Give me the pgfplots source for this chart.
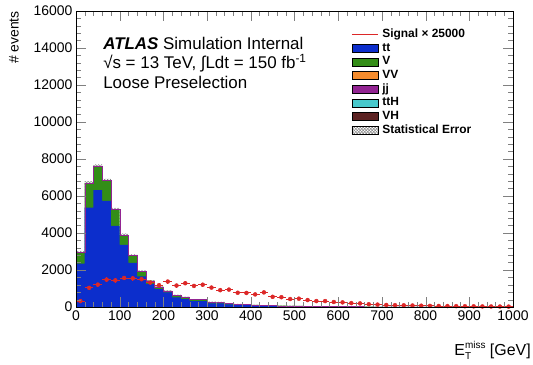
\documentclass[border=0pt]{standalone}
\usepackage{fontspec}
\setmainfont{Liberation Sans}
\usepackage{pgfplots}
\usepackage{pgfplotstable}
\pgfplotsset{compat=1.18}
\usepgfplotslibrary{fillbetween}
\usetikzlibrary{patterns}
\definecolor{ttblue}{RGB}{12,46,204}
\definecolor{vgreen}{RGB}{51,141,23}
\definecolor{vvorange}{RGB}{245,140,45}
\definecolor{jjpurple}{RGB}{146,36,146}
\definecolor{tthcyan}{RGB}{72,201,204}
\definecolor{vhbrown}{RGB}{92,34,34}
\definecolor{sigred}{RGB}{220,40,40}
\pgfplotstableread{
x tt tot err
0 2340 2960 60
20 5370 6710 90
40 6320 7600 95
60 5730 6830 90
80 4390 5280 80
100 3360 3890 70
120 2390 2780 60
140 1660 1930 50
160 1230 1410 40
180 960 1090 35
200 790 870 30
220 520 640 28
240 430 535 25
260 320 410 22
280 320 410 22
300 200 270 18
320 190 260 18
340 140 180 15
360 120 160 14
380 100 130 12
400 80 110 11
420 70 95 10
440 60 80 9
460 50 70 8
480 45 60 8
500 40 55 7
520 35 45 7
540 30 40 6
560 25 35 6
580 20 30 5
600 18 25 5
620 15 20 4
640 12 17 4
660 10 14 4
680 8 11 3
700 6 9 3
720 5 7 3
740 4 6 2
760 3 5 2
780 3 4 2
800 2 3 2
820 2 3 1
840 1 2 1
860 1 2 1
880 1 1 1
900 1 1 1
920 0 1 1
940 0 1 1
960 0 0 0
980 0 0 0
1000 0 0 0
}\bkg
\pgfplotstableread{
x y ex ey
10 320 10 60
30 1035 10 100
50 1210 10 110
70 1480 10 120
90 1440 10 120
110 1570 10 120
130 1550 10 120
150 1500 10 120
170 1320 10 110
190 1180 10 110
210 1375 10 110
230 1160 10 110
250 1285 10 110
270 1140 10 100
290 1205 10 100
310 1050 10 100
330 910 10 90
350 940 10 90
370 770 10 85
390 760 10 85
410 680 10 80
430 790 10 85
450 550 10 75
470 530 10 70
490 430 10 65
510 450 10 65
530 375 10 60
550 320 10 55
570 320 10 55
590 270 10 50
610 250 10 50
630 210 10 45
650 195 10 45
670 150 10 40
690 130 10 35
710 110 10 35
730 100 10 30
750 90 10 30
770 80 10 30
790 70 10 25
810 60 10 25
830 55 10 25
850 50 10 20
870 45 10 20
890 40 10 20
910 35 10 20
930 30 10 15
950 28 10 15
970 25 10 15
990 22 10 15
}\sig
\begin{document}
\begin{tikzpicture}
\begin{axis}[
  name=ax,
  scale only axis,
  width=437bp, height=296bp,
  xmin=0, xmax=1000, ymin=0, ymax=16000,
  xtick distance=100, ytick distance=2000,
  minor x tick num=4, minor y tick num=4,
  tick align=inside,
  major tick length=10bp, minor tick length=5bp,
  axis on top,
  tick label style={font=\fontsize{14}{14}\selectfont},
  /pgf/number format/assume math mode=true,
  /pgf/number format/1000 sep={},
  scaled y ticks=false,
  xlabel={E\rlap{\raisebox{-0.45ex}{\fontsize{10}{10}\selectfont T}}\raisebox{0.85ex}{\fontsize{10}{10}\selectfont miss} [GeV]},
  xlabel style={at={(rel axis cs:1.041,-0.145)}, anchor=east, font=\fontsize{16}{16}\selectfont, inner sep=0pt},
  ylabel={\# events},
  ylabel style={at={(rel axis cs:-0.142,1.0)}, anchor=east, rotate=0, font=\fontsize{14}{14}\selectfont, inner sep=0pt},
  legend style={at={(rel axis cs:0.63,0.938)}, anchor=north west, draw=none, fill=none,
    inner sep=0pt, outer sep=0pt,
    font=\bfseries\fontsize{12}{12}\selectfont, row sep=3.7bp, column sep=4bp,
    nodes={inner sep=0pt, text height=8bp, text depth=2bp}},
  legend cell align=left,
  boxleg/.style={legend image code/.code={\fill[##1] (0bp,-4bp) rectangle (26bp,4bp);}},
]
\addlegendimage{legend image code/.code={\draw[sigred, line width=1pt] (0bp,0bp) -- (26bp,0bp);}}
\addlegendentry{Signal × 25000}
\addlegendimage{boxleg, fill=ttblue}
\addlegendentry{tt}
\addlegendimage{boxleg, fill=vgreen}
\addlegendentry{V}
\addlegendimage{boxleg, fill=vvorange}
\addlegendentry{VV}
\addlegendimage{boxleg, fill=jjpurple}
\addlegendentry{jj}
\addlegendimage{boxleg, fill=tthcyan}
\addlegendentry{ttH}
\addlegendimage{boxleg, fill=vhbrown}
\addlegendentry{VH}
\addlegendimage{boxleg, pattern=crosshatch, pattern color=gray}
\addlegendentry{Statistical Error}

\addplot[const plot, fill=vgreen, draw=none, forget plot] table[x=x, y=tot]{\bkg} \closedcycle;
\addplot[const plot, fill=ttblue, draw=none, forget plot] table[x=x, y=tt]{\bkg} \closedcycle;
\addplot[const plot, draw=jjpurple, line width=0.4pt, forget plot] table[x=x, y=tot]{\bkg};
\addplot[const plot, draw=none, name path=up, forget plot] table[x=x, y expr=\thisrow{tot}+\thisrow{err}]{\bkg};
\addplot[const plot, draw=none, name path=lo, forget plot] table[x=x, y expr=\thisrow{tot}-\thisrow{err}]{\bkg};
\addplot[pattern=crosshatch, pattern color=gray, draw=none, forget plot] fill between[of=up and lo];
\addplot[sigred, only marks, mark=none, forget plot,
  error bars/.cd, x dir=both, x explicit, y dir=both, y explicit,
  error mark=none, error bar style={line width=0.9pt, sigred}]
  table[x=x, y=y, x error=ex, y error=ey]{\sig};

\node[anchor=west, inner sep=0pt, font=\fontsize{17}{17}\selectfont] at (rel axis cs:0.062,0.889) {\textbf{\textit{ATLAS}} Simulation Internal};
\node[anchor=west, inner sep=0pt, font=\fontsize{17}{17}\selectfont] at (rel axis cs:0.062,0.823) {√s = 13 TeV, ∫Ldt = 150 fb\textsuperscript{-1}};
\node[anchor=west, inner sep=0pt, font=\fontsize{17}{17}\selectfont] at (rel axis cs:0.062,0.760) {Loose Preselection};
\end{axis}
\pgfresetboundingbox
\path (ax.south west) ++(-76bp,-58bp) coordinate (bl);
\path (ax.north east) ++(20bp,11bp) coordinate (tr);
\path[use as bounding box] (bl) rectangle (tr);
\end{tikzpicture}
\end{document}
